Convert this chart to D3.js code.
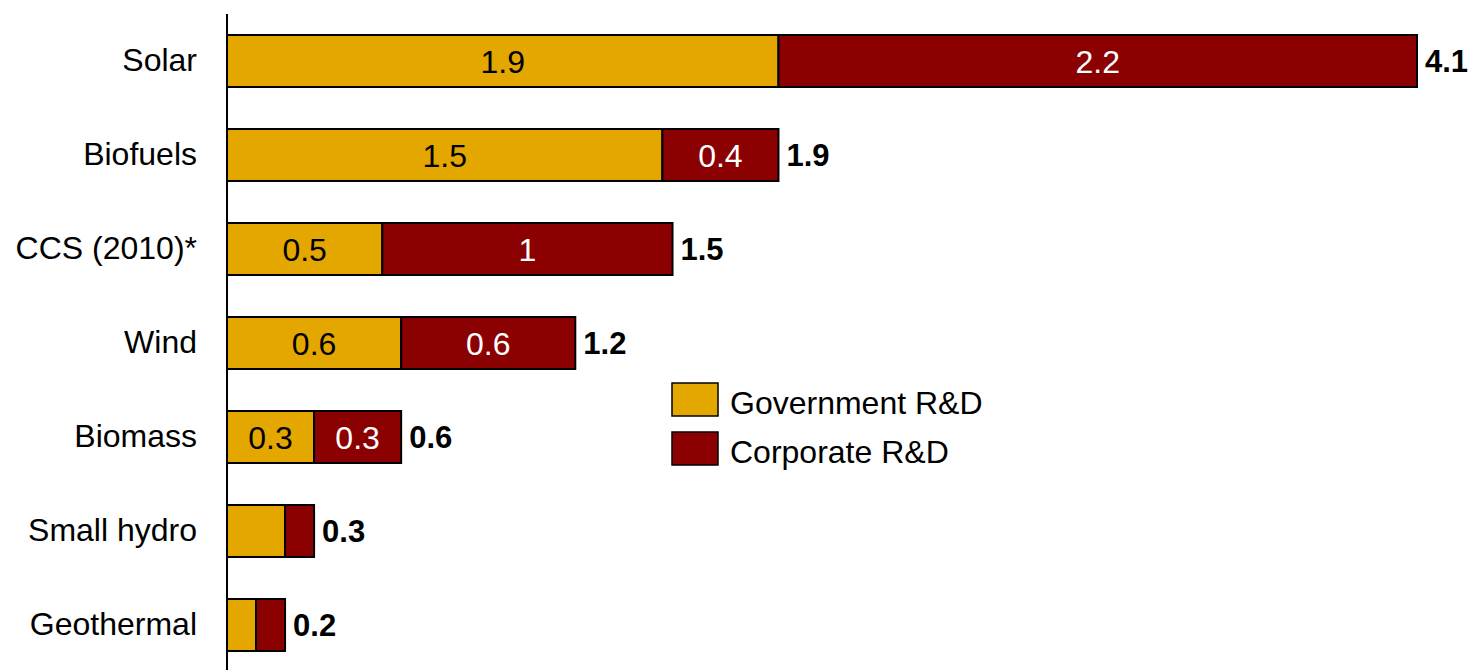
<!DOCTYPE html>
<html>
<head>
<meta charset="utf-8">
<script src="https://cdn.jsdelivr.net/npm/d3@7"></script>
<style>
  body { margin: 0; background: #fff; }
  text { font-family: "Liberation Sans", Arial, sans-serif; }
</style>
</head>
<body>
<svg id="chart" width="1468" height="670"></svg>
<script>
"use strict";

var categories = ["Solar", "Biofuels", "CCS (2010)*", "Wind", "Biomass", "Small hydro", "Geothermal"]
var government = [1.9, 1.5, 0.535, 0.6, 0.3, 0.2, 0.1]
var corporate = [2.2, 0.4, 1.0, 0.6, 0.3, 0.1, 0.1]
var govLabels = ["1.9", "1.5", "0.5", "0.6", "0.3", "", ""]
var corpLabels = ["2.2", "0.4", "1", "0.6", "0.3", "", ""]
var totalLabels = ["4.1", "1.9", "1.5", "1.2", "0.6", "0.3", "0.2"]
var seriesNames = ["Government R&D", "Corporate R&D"]
var colors = ["#E4A700", "#8B0000"]

var svg = d3.select("#chart")

var x = d3.scaleLinear().domain([0, 4.1]).range([227, 1417])
var y = d3.scaleBand().domain(categories).range([14, 672])
    .paddingInner(0.447).paddingOuter(0.2235)

var rows = categories.map((c, i) => ({
    cat: c, gov: government[i], corp: corporate[i],
    govLabel: govLabels[i], corpLabel: corpLabels[i], total: totalLabels[i]
}))

var stack = d3.stack().keys(["gov", "corp"])(rows)

// bars
stack.forEach(function (layer, k) {
    svg.append("g").selectAll("rect")
        .data(layer)
        .join("rect")
        .attr("x", d => x(d[0]))
        .attr("y", d => y(d.data.cat))
        .attr("width", d => x(d[1]) - x(d[0]))
        .attr("height", y.bandwidth())
        .attr("fill", colors[k])
        .attr("stroke", "#000")
        .attr("stroke-width", 2)

    svg.append("g").selectAll("text")
        .data(layer)
        .join("text")
        .attr("x", d => (x(d[0]) + x(d[1])) / 2)
        .attr("y", d => y(d.data.cat) + y.bandwidth() / 2)
        .attr("text-anchor", "middle")
        .attr("dy", "0.36em")
        .attr("font-size", 32)
        .attr("fill", k == 0 ? "#000" : "#fff")
        .text(d => k == 0 ? d.data.govLabel : d.data.corpLabel)
})

// totals
svg.append("g").selectAll("text")
    .data(stack[1])
    .join("text")
    .attr("x", d => x(d[1]) + 8)
    .attr("y", d => y(d.data.cat) + y.bandwidth() / 2)
    .attr("dy", "0.36em")
    .attr("font-size", 31)
    .attr("font-weight", "bold")
    .text(d => d.data.total)

// category axis
var yAxis = svg.append("g")
    .attr("transform", "translate(" + x(0) + ",0)")
    .call(d3.axisLeft(y).tickSize(0).tickPadding(30))
yAxis.select(".domain").attr("d", "M0,14V670").attr("stroke", "#000").attr("stroke-width", 2)
yAxis.selectAll("text")
    .attr("font-size", 32)
    .attr("font-family", "Liberation Sans, Arial, sans-serif")
    .attr("fill", "#000")

// legend
var legend = svg.append("g").attr("transform", "translate(672,383)")
seriesNames.forEach(function (name, i) {
    var g = legend.append("g").attr("transform", "translate(0," + (i * 49) + ")")
    g.append("rect")
        .attr("width", 46).attr("height", 33)
        .attr("fill", colors[i]).attr("stroke", "#000").attr("stroke-width", 1.5)
    g.append("text")
        .attr("x", 58).attr("y", 19).attr("dy", "0.36em")
        .attr("font-size", 32)
        .text(name)
})
</script>
</body>
</html>
